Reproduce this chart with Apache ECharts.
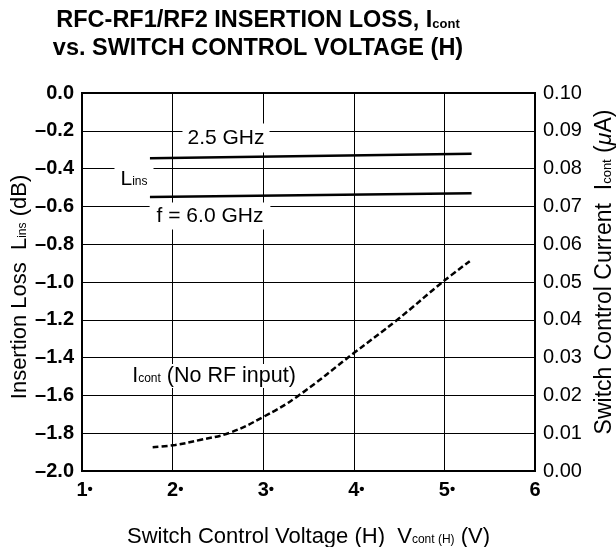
<!DOCTYPE html>
<html>
<head>
<meta charset="utf-8">
<script src="https://cdn.jsdelivr.net/npm/echarts@6/dist/echarts.min.js"></script>
<style>html,body{margin:0;padding:0;background:#fff}#c{width:616px;height:547px}</style>
</head>
<body>
<div id="c"></div>
<script>
// ---- data ----
const xTicks = ['1', '2', '3', '4', '5', '6'];
const lossV = [1.75, 5.3];
const loss25 = [-0.345, -0.322];
const loss60 = [-0.55, -0.53];
const icontV = [1.78, 2.03, 2.3, 2.63, 3.0, 3.37, 4.0, 4.48, 4.98, 5.28];
const icontA = [0.0063, 0.0069, 0.0082, 0.0101, 0.0143, 0.0196, 0.0312, 0.040, 0.050, 0.0555];

const FONT = '"Liberation Sans", Arial, Helvetica, sans-serif';
const chart = echarts.init(document.getElementById('c'));
const zip = (a, b) => a.map((v, i) => [v, b[i]]);
const sub = (size, key) => ({ fontSize: size, fontFamily: FONT, [key]: '#000', verticalAlign: 'bottom', padding: [0, 0, 2, 0] });

chart.setOption({
  animation: false,
  backgroundColor: '#fff',
  grid: { left: 82, right: 81, top: 93, bottom: 76, outerBoundsMode: 'none', containLabel: false,
    show: true, borderColor: '#000', borderWidth: 2, backgroundColor: 'transparent' },
  xAxis: {
    type: 'value', min: 1, max: 6, interval: 1,
    axisLine: { show: false }, axisTick: { show: false },
    splitLine: { show: true, lineStyle: { color: '#000', width: 1 } },
    axisLabel: {
      margin: 9, color: '#000', fontSize: 20, fontWeight: 'bold', fontFamily: FONT,
      formatter: v => { const s = xTicks[Math.round(v) - 1]; return v < 6 ? '{h|•}' + s + '{b|•}' : s; },
      rich: {
        h: { color: 'rgba(0,0,0,0)', fontSize: 15, fontFamily: FONT },
        b: { color: '#000', fontSize: 15, fontFamily: FONT }
      }
    },
    name: 'Switch Control Voltage (H)  V{s|cont (H)} (V)', nameLocation: 'middle', nameGap: 55, nameMoveOverlap: false,
    nameTextStyle: { color: '#000', fontSize: 22, fontFamily: FONT, rich: { s: sub(12, 'color') } }
  },
  yAxis: [{
    type: 'value', min: -2, max: 0, interval: 0.2,
    axisLine: { show: false }, axisTick: { show: false },
    splitLine: { show: true, lineStyle: { color: '#000', width: 1 } },
    axisLabel: { margin: 8, color: '#000', fontSize: 20, fontWeight: 'bold', fontFamily: FONT,
      formatter: v => (v < -1e-9 ? '–' + Math.abs(v).toFixed(1) : '0.0') },
    name: 'Insertion Loss  L{s|ins} (dB)', nameLocation: 'middle', nameGap: 51, nameRotate: 90, nameMoveOverlap: false,
    nameTextStyle: { color: '#000', fontSize: 22, fontFamily: FONT, padding: [0, 10, 0, 0], rich: { s: sub(12, 'color') } }
  }, {
    type: 'value', min: 0, max: 0.1, interval: 0.01, position: 'right',
    axisLine: { show: false }, axisTick: { show: false }, splitLine: { show: false },
    axisLabel: { margin: 8, color: '#000', fontSize: 20, fontFamily: FONT, formatter: v => v.toFixed(2) },
    name: 'Switch Control Current  I{s|cont} ({m|μ}A)', nameLocation: 'middle', nameGap: 58, nameRotate: 90, nameMoveOverlap: false,
    nameTextStyle: { color: '#000', fontSize: 23, fontFamily: FONT, padding: [0, 0, 0, 20],
      rich: { s: sub(13, 'color'), m: { fontSize: 23, fontStyle: 'italic', fontFamily: FONT, color: '#000' } } }
  }],
  series: [
    { name: '2.5 GHz', type: 'line', data: zip(lossV, loss25), showSymbol: false, lineStyle: { color: '#000', width: 2.5 } },
    { name: '6.0 GHz', type: 'line', data: zip(lossV, loss60), showSymbol: false, lineStyle: { color: '#000', width: 2.5 } },
    { name: 'Icont', type: 'line', yAxisIndex: 1, data: zip(icontV, icontA), smooth: 0.4, showSymbol: false,
      lineStyle: { color: '#000', width: 2.5, type: [6, 3] } }
  ],
  graphic: [
    { type: 'text', z: 100, x: 258, y: 7, style: {
        text: 'RFC-RF1/RF2 INSERTION LOSS, I{s|cont}\nvs. SWITCH CONTROL VOLTAGE (H)',
        align: 'center', verticalAlign: 'top', lineHeight: 28, fontSize: 23.5, fontWeight: 'bold', fontFamily: FONT, fill: '#000',
        rich: { s: { fontSize: 13, fontWeight: 'bold', fontFamily: FONT, fill: '#000', verticalAlign: 'bottom', padding: [0, 0, 4, 0] } } } },
    { type: 'text', z: 100, x: 226, y: 138, style: { text: '2.5 GHz', align: 'center', verticalAlign: 'middle',
        fontSize: 21, fontFamily: FONT, fill: '#000', backgroundColor: '#fff', padding: [4, 5] } },
    { type: 'text', z: 100, x: 134, y: 179, style: { text: 'L{s|ins}', align: 'center', verticalAlign: 'middle',
        fontSize: 21, fontFamily: FONT, fill: '#000', backgroundColor: '#fff', padding: [3, 6],
        rich: { s: sub(12, 'fill') } } },
    { type: 'text', z: 100, x: 210, y: 216, style: { text: 'f = 6.0 GHz', align: 'center', verticalAlign: 'middle',
        fontSize: 21, fontFamily: FONT, fill: '#000', backgroundColor: '#fff', padding: [3, 7] } },
    { type: 'text', z: 100, x: 214, y: 376, style: { text: 'I{s|cont} (No RF input)', align: 'center', verticalAlign: 'middle',
        fontSize: 21.5, fontFamily: FONT, fill: '#000', backgroundColor: '#fff', padding: [1, 2],
        rich: { s: sub(12, 'fill') } } }
  ]
});
</script>
</body>
</html>
